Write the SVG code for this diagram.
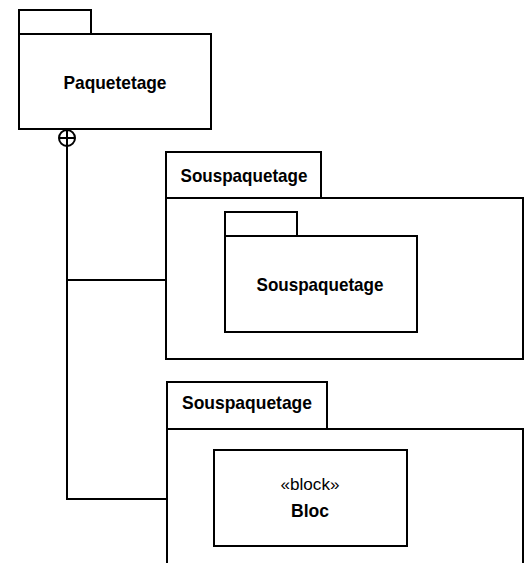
<svg xmlns="http://www.w3.org/2000/svg" width="530" height="563" viewBox="0 0 530 563">
<style>
.box{fill:#fff;stroke:#000;stroke-width:2}
.ln{fill:none;stroke:#000;stroke-width:2}
.b{font-family:"Liberation Sans",Arial,sans-serif;font-weight:bold;font-size:19px;fill:#000;text-anchor:middle}
.r{font-family:"Liberation Sans",Arial,sans-serif;font-size:17px;fill:#000;text-anchor:middle}
</style>
<rect width="530" height="563" fill="#fff"/>
<g id="connectors">
<path class="ln" d="M67,146 V499 H167 M67,280 H166"/>
<circle class="box" cx="67" cy="138" r="8"/>
<path class="ln" d="M59,138 H75 M67,130 V146"/>
</g>
<g id="paquetetage">
<rect class="box" x="19" y="10" width="72" height="24"/>
<rect class="box" x="19" y="34" width="192" height="95"/>
<text class="b" x="115" y="89" textLength="103" lengthAdjust="spacingAndGlyphs">Paquetetage</text>
</g>
<g id="souspaquetage1">
<rect class="box" x="166" y="152" width="155" height="46"/>
<rect class="box" x="166" y="198" width="357" height="161"/>
<text class="b" x="244" y="182" textLength="127" lengthAdjust="spacingAndGlyphs">Souspaquetage</text>
</g>
<g id="souspaquetage-inner">
<rect class="box" x="225" y="212" width="72" height="24"/>
<rect class="box" x="225" y="236" width="192" height="96"/>
<text class="b" x="320" y="291" textLength="127" lengthAdjust="spacingAndGlyphs">Souspaquetage</text>
</g>
<g id="souspaquetage2">
<rect class="box" x="167" y="382" width="160" height="47"/>
<path class="box" d="M167,566 V429 H523 V566"/>
<text class="b" x="247" y="409" textLength="130" lengthAdjust="spacingAndGlyphs">Souspaquetage</text>
</g>
<g id="bloc">
<rect class="box" x="214" y="450" width="193" height="96"/>
<text class="r" x="310" y="490" textLength="59" lengthAdjust="spacingAndGlyphs">«block»</text>
<text class="b" x="310" y="517" textLength="38" lengthAdjust="spacingAndGlyphs">Bloc</text>
</g>
</svg>
